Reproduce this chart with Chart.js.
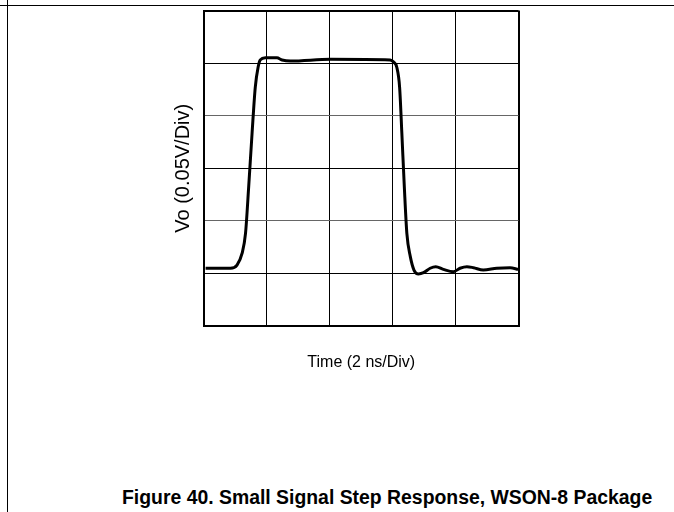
<!DOCTYPE html>
<html lang="en">

<head>
    <meta charset="UTF-8">
    <title>Small Signal Step Response</title>
    <script src="https://cdn.jsdelivr.net/npm/chart.js"></script>
    <style>
        * {
            margin: 0;
            padding: 0;
        }

        html {
            overflow: hidden;
        }

        body {
            background-color: #fff;
            width: 674px;
            height: 512px;
            position: relative;
            overflow: hidden;
            font-family: "Liberation Sans", Arial, sans-serif;
        }

        #frame {
            position: absolute;
            left: 7px;
            top: 5px;
            right: 0;
            bottom: 0;
            border-top: 1px solid #000;
            border-left: 1px solid #000;
        }

        #topLine {
            position: absolute;
            left: 0;
            top: 5px;
            width: 7px;
            height: 1px;
            background-color: #000;
        }

        #leftTick {
            position: absolute;
            left: 7px;
            top: 0;
            width: 1px;
            height: 5px;
            background-color: #000;
        }

        #myChart {
            position: absolute;
            left: 0;
            top: 0;
        }

        #caption {
            position: absolute;
            left: 122px;
            top: 488px;
            font-size: 19.4px;
            line-height: 1;
            font-weight: bold;
            white-space: nowrap;
        }
    </style>
</head>

<body>
    <div id="frame"></div>
    <div id="topLine"></div>
    <div id="leftTick"></div>
    <canvas id="myChart" width="674" height="400"></canvas>
    <div id="caption">Figure 40. Small Signal Step Response, WSON-8 Package</div>

    <script>
        // trace: time in ns, output in mV (0.05 V per division)
        const timeNs = [0.05, 0.84, 1.05, 1.21, 1.32, 1.42, 1.53, 1.63, 1.72, 1.79, 1.95, 2.32, 2.48, 2.75,
            4.02, 5.92, 6.03, 6.13, 6.22, 6.29, 6.37, 6.45, 6.56, 6.68, 6.82, 6.98, 7.19, 7.37, 7.61,
            7.93, 8.14, 8.36, 8.57, 8.88, 9.31, 9.73, 9.99];
        const voltsMv = [55, 55, 58, 69, 88, 132, 184, 227, 246, 253, 255, 255, 253, 252,
            253.6, 253, 251, 246, 227, 184, 132, 88, 66, 53, 49.5, 50.7, 54.9, 56.4, 53.9,
            51.6, 54.9, 56.4, 55.4, 53.3, 54.9, 55.4, 53.9];

        const xTitle = 'Time (2 ns/Div)';
        const yTitle = 'Vo (0.05V/Div)';
        const xMax = 10;
        const yMax = 300;

        const points = timeNs.map(function (t, i) {
            return { x: t, y: voltsMv[i] };
        });

        function edgeWidth(max) {
            return function (c) {
                if (!c.tick) return 1;
                return (c.tick.value === 0 || c.tick.value === max) ? 2 : 1;
            };
        }

        const data = {
            datasets: [{
                data: points,
                borderColor: '#000',
                borderWidth: 3,
                pointRadius: 0,
                fill: false,
                cubicInterpolationMode: 'monotone'
            }]
        };

        const config = {
            type: 'line',
            data: data,
            options: {
                responsive: false,
                animation: false,
                layout: {
                    padding: { left: 171, right: 155.5, top: 10.5, bottom: 28 }
                },
                plugins: {
                    legend: { display: false },
                    tooltip: { enabled: false }
                },
                scales: {
                    x: {
                        type: 'linear',
                        min: 0,
                        max: xMax,
                        afterFit: function (s) { s.height = 46; },
                        ticks: { display: false, stepSize: 2 },
                        grid: { color: '#000', lineWidth: edgeWidth(xMax), drawTicks: false },
                        border: { color: '#000', width: 2 },
                        title: {
                            display: true,
                            text: xTitle,
                            color: '#000',
                            padding: 0,
                            font: { family: 'Liberation Sans', size: 16 }
                        }
                    },
                    y: {
                        min: 0,
                        max: yMax,
                        afterFit: function (s) { s.width = 33; },
                        ticks: { display: false, stepSize: 50 },
                        grid: {
                            color: function (c) {
                                return (c.tick && (c.tick.value === 100 || c.tick.value === 200)) ? '#666' : '#000';
                            },
                            lineWidth: edgeWidth(yMax),
                            drawTicks: false
                        },
                        border: { color: '#000', width: 2 },
                        title: {
                            display: true,
                            text: yTitle,
                            color: '#000',
                            padding: 0,
                            font: { family: 'Liberation Sans', size: 20 }
                        }
                    }
                }
            }
        };

        const ctx = document.getElementById("myChart");
        const myChartInstance = new Chart(ctx, config);
    </script>
</body>

</html>
